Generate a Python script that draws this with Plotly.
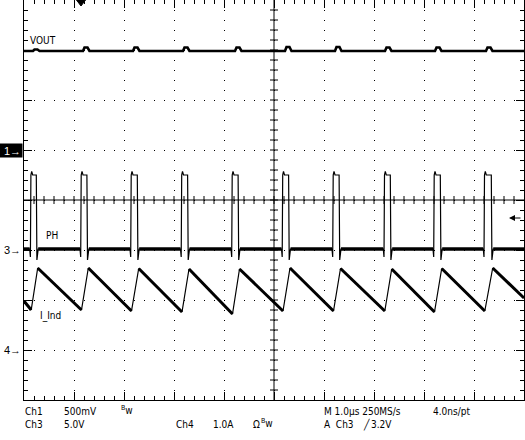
import plotly.graph_objects as go

# ---------------- scope settings ----------------
T_LEFT, T_RIGHT = -1.14, 8.86          # us, 1.0 us/div, t=0 at trigger
CH1_SCALE, CH1_POS = 0.5, 1.0          # V/div, ground marker (div)
CH3_SCALE, CH3_POS = 5.0, -1.0         # V/div
CH4_SCALE, CH4_POS = 1.0, -3.0         # A/div
TRIG_LEVEL = 3.2                       # V on Ch3

# ---------------- PH (Ch3) switch node ----------------
ph_rise = [-1.006, 0.0, 1.0, 2.01, 3.02, 4.03, 5.04, 6.066, 7.06, 8.066]
ph_fall = [-0.886, 0.126, 1.134, 2.14, 3.15, 4.16, 5.17, 6.194, 7.194, 8.214]
ph_low = 0.1
ph_high = 7.5
ph_overshoot = 7.85
ph_dip = -0.7
ph_undershoot = -1.0

# ---------------- I_Ind (Ch4) inductor current ----------------
il_start = 0.98
il_valley = [0.80, 0.80, 0.78, 0.76, 0.72, 0.78, 0.78, 0.78, 0.76, 0.78]
il_peak = [1.64, 1.64, 1.63, 1.62, 1.62, 1.64, 1.63, 1.62, 1.63, 1.64]
il_end = 1.04

# ---------------- VOUT (Ch1) ----------------
vout_level = 0.99
vout_bump_t = [-0.92, 0.08, 1.08, 2.08, 3.12, 4.12, 5.12, 6.12, 7.12, 8.14]
vout_bump_v = [1.005, 1.025, 1.025, 1.025, 1.025, 1.03, 1.03, 1.025, 1.025, 1.025]

# ---------------- build polylines ----------------
ph_t, ph_v = [T_LEFT], [ph_low]
ph_flat_t, ph_flat_v = [T_LEFT], [ph_low]
for r, f in zip(ph_rise, ph_fall):
    ph_t += [r - 0.02, r - 0.006, r + 0.004, r + 0.02, r + 0.04, f - 0.008, f + 0.004, f + 0.03]
    ph_v += [ph_low, ph_dip, ph_high, ph_overshoot, ph_high, ph_high, ph_undershoot, ph_low]
    ph_flat_t += [r - 0.02, None, f + 0.03]
    ph_flat_v += [ph_low, None, ph_low]
ph_t.append(T_RIGHT); ph_v.append(ph_low)
ph_flat_t.append(T_RIGHT); ph_flat_v.append(ph_low)

il_t, il_v = [T_LEFT], [il_start]
il_dec_t, il_dec_v = [T_LEFT], [il_start]
for r, f, lo, hi in zip(ph_rise, ph_fall, il_valley, il_peak):
    il_t += [r + 0.01, f + 0.02]
    il_v += [lo, hi]
    il_dec_t += [r + 0.01, None, f + 0.02]
    il_dec_v += [lo, None, hi]
il_t.append(T_RIGHT); il_v.append(il_end)
il_dec_t.append(T_RIGHT); il_dec_v.append(il_end)

vo_t, vo_v = [T_LEFT], [vout_level]
for b, bv in zip(vout_bump_t, vout_bump_v):
    vo_t += [b - 0.04, b - 0.01, b + 0.05, b + 0.09]
    vo_v += [vout_level, bv, bv, vout_level]
vo_t.append(T_RIGHT); vo_v.append(vout_level)

fig = go.Figure()
blk = "black"
fig.add_trace(go.Scatter(x=vo_t, y=vo_v, yaxis="y2", mode="lines",
                         line=dict(color=blk, width=2.6), hoverinfo="skip"))
fig.add_trace(go.Scatter(x=ph_t, y=ph_v, yaxis="y3", mode="lines",
                         line=dict(color=blk, width=1.2), hoverinfo="skip"))
fig.add_trace(go.Scatter(x=ph_flat_t, y=ph_flat_v, yaxis="y3", mode="lines",
                         line=dict(color=blk, width=3.4), hoverinfo="skip"))
fig.add_trace(go.Scatter(x=il_t, y=il_v, yaxis="y4", mode="lines",
                         line=dict(color=blk, width=1.2), hoverinfo="skip"))
fig.add_trace(go.Scatter(x=il_dec_t, y=il_dec_v, yaxis="y4", mode="lines",
                         line=dict(color=blk, width=3.0), hoverinfo="skip"))

W, H = 525, 440
X0, X1, YB = 24, 524, 400

def ch_range(scale, pos):
    return [(-4 - pos) * scale, (4 - pos) * scale]

axis_common = dict(showline=True, linecolor=blk, linewidth=1, mirror="ticks",
                   ticks="inside", ticklen=8, tickcolor=blk, tickwidth=1,
                   showticklabels=False, zeroline=False, showgrid=True,
                   gridcolor=blk, gridwidth=1, griddash="1px,9px", fixedrange=True)

fig.update_layout(
    width=W, height=H, margin=dict(l=0, r=0, t=0, b=0),
    paper_bgcolor="white", plot_bgcolor="white", showlegend=False,
    xaxis=dict(domain=[X0 / W, X1 / W], range=[T_LEFT, T_RIGHT], tick0=T_LEFT, dtick=1,
               minor=dict(tick0=T_LEFT, dtick=0.2, ticks="inside", ticklen=4,
                          tickcolor=blk, showgrid=False), **axis_common),
    yaxis=dict(domain=[(H - YB) / H, 1], range=[-4, 4], tick0=-4, dtick=1,
               minor=dict(tick0=-4, dtick=0.2, ticks="inside", ticklen=4,
                          tickcolor=blk, showgrid=False), **axis_common),
    yaxis2=dict(overlaying="y", range=ch_range(CH1_SCALE, CH1_POS), visible=False, fixedrange=True),
    yaxis3=dict(overlaying="y", range=ch_range(CH3_SCALE, CH3_POS), visible=False, fixedrange=True),
    yaxis4=dict(overlaying="y", range=ch_range(CH4_SCALE, CH4_POS), visible=False, fixedrange=True),
    font=dict(family="Liberation Sans Narrow, DejaVu Sans Condensed, Liberation Sans", size=10, color=blk),
)

# centre cross with ticks
xc = (T_LEFT + T_RIGHT) / 2
dx, dy = 4 / 50, 4 / 50
p = [f"M{T_LEFT},0 L{T_RIGHT},0", f"M{xc},-4 L{xc},4"]
for k in range(1, 50):
    x = T_LEFT + 0.2 * k
    p.append(f"M{x:.3f},{-dy} L{x:.3f},{dy}")
for k in range(1, 40):
    y = -4 + 0.2 * k
    p.append(f"M{xc - dx:.3f},{y:.3f} L{xc + dx:.3f},{y:.3f}")
fig.add_shape(type="path", path=" ".join(p), xref="x", yref="y",
              line=dict(color=blk, width=1), layer="below")
# trigger position marker
fig.add_shape(type="path", path="M-0.09,4 L0.09,4 L0,3.88 Z", xref="x", yref="y",
              line=dict(color=blk, width=1), fillcolor=blk)
# trigger level arrow (right edge)
fig.add_annotation(x=509 / W, xref="paper", y=TRIG_LEVEL, yref="y3", text="",
                   showarrow=True, ax=13, ay=0, arrowhead=2, arrowsize=1.2,
                   arrowwidth=1, arrowcolor=blk)

# channel ground markers
fig.add_annotation(x=23 / W, xref="paper", y=0, yref="y2", text="1→", xanchor="right",
                   yanchor="middle", showarrow=False, bgcolor=blk,
                   font=dict(color="white", size=11, family="Liberation Sans"),
                   width=20, height=11, align="right", borderpad=1)
for lbl, yr in (("3→", "y3"), ("4→", "y4")):
    fig.add_annotation(x=23 / W, xref="paper", y=0, yref=yr, text=lbl, xanchor="right",
                       yanchor="middle", showarrow=False,
                       font=dict(size=11, family="Liberation Sans"))

def txt(s, xp, yp, size=10):
    fig.add_annotation(x=xp / W, y=(H - yp) / H, xref="paper", yref="paper", text=s,
                       showarrow=False, xanchor="left", yanchor="middle",
                       font=dict(size=size))

txt("VOUT", 28, 41)
txt("PH", 44, 235.5)
txt("I_Ind", 38, 316)

txt("Ch1", 23, 411)
txt("500mV", 62, 411)
txt("<sup>B</sup>w", 119, 410)
txt("M 1.0µs 250MS/s", 322, 411)
txt("4.0ns/pt", 431, 411)
txt("Ch3", 23, 424)
txt("5.0V", 62, 424)
txt("Ch4", 174, 424)
txt("1.0A", 211, 424)
txt("Ω", 251, 424)
txt("<sup>B</sup>w", 259, 423)
txt("A  Ch3", 322, 424)
txt("╱", 361, 424)
txt("3.2V", 369, 424)

fig.write_html("out.html", config={"displayModeBar": False},
               post_script="document.body.style.margin='0px';")
